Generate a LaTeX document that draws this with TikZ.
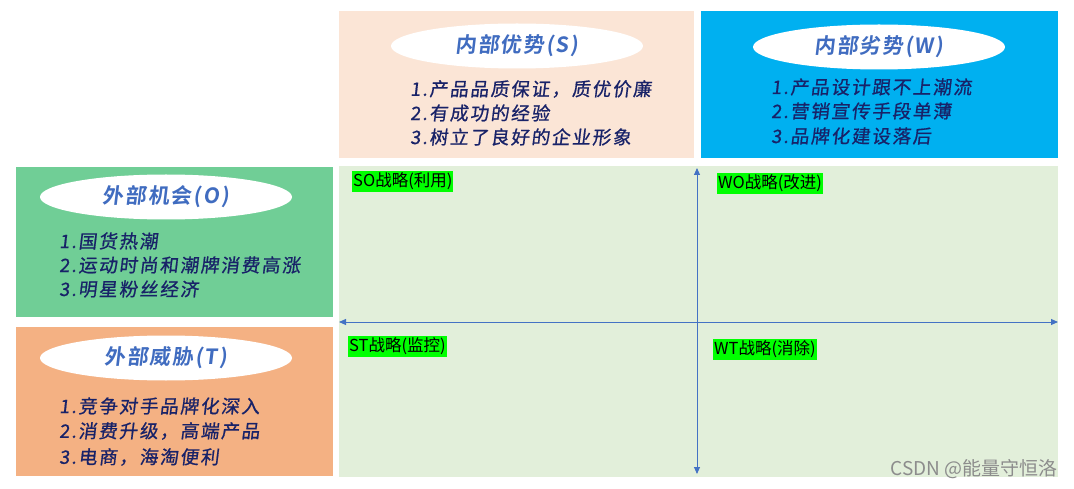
\documentclass[tikz,border=0pt]{standalone}
\usepackage{fontspec}
\usetikzlibrary{arrows.meta,shapes.geometric}
\newfontfamily\cjk{Noto Sans CJK SC}
\newfontfamily\hand[FakeSlant=0.12,LetterSpace=10,FakeBold=0.8]{Noto Sans CJK SC}
\newfontfamily\handb[FakeSlant=0.12,LetterSpace=8]{Noto Sans CJK SC Bold}
\definecolor{sbox}{RGB}{251,229,214}
\definecolor{wbox}{RGB}{0,176,240}
\definecolor{obox}{RGB}{112,206,150}
\definecolor{tbox}{RGB}{244,177,131}
\definecolor{cbox}{RGB}{226,239,218}
\definecolor{titleblue}{RGB}{64,108,192}
\definecolor{itemnavy}{RGB}{24,34,104}
\definecolor{axisblue}{RGB}{68,114,196}
\definecolor{lab}{RGB}{0,255,0}
\begin{document}
\begin{tikzpicture}[x=1pt,y=-1pt,
  oval/.style={ellipse,fill=white,draw=none,minimum width=252pt,minimum height=45pt,inner sep=0pt,
    font=\handb\fontsize{21}{23}\selectfont,text=titleblue},
  item/.style={anchor=west,inner sep=0pt,font=\hand\fontsize{18.5}{20}\selectfont,text=itemnavy},
  strat/.style={anchor=north west,fill=lab,inner xsep=1pt,inner ysep=0pt,text height=15pt,text depth=5.5pt,
    font=\cjk\fontsize{16.5}{18}\selectfont,text=black},
  axis/.style={draw=axisblue,line width=0.9pt,{Triangle[width=6pt,length=7pt]}-{Triangle[width=6pt,length=7pt]}}
]
\useasboundingbox (0,0) rectangle (1074,489);
\fill[white] (0,0) rectangle (1074,489);
% panels
\fill[sbox] (339,11) rectangle (694,158);
\fill[wbox] (701,11) rectangle (1058,158);
\fill[obox] (16,167) rectangle (333,317);
\fill[tbox] (16,327) rectangle (333,476);
\fill[cbox] (339,166) rectangle (1058,477);
% axes
\coordinate (hl) at (339,322);
\coordinate (hr) at (1058,322);
\coordinate (vt) at (697,168);
\coordinate (vb) at (697,474);
\draw[axis] (hl) -- (hr);
\draw[axis] (vt) -- (vb);
% titles
\node[oval] (st) at (517,46) {内部优势(S)};
\node[oval] (wt) at (879,47) {内部劣势(W)};
\node[oval] (ot) at (166,197) {外部机会(O)};
\node[oval] (tt) at (166,358) {外部威胁(T)};
% S items
\node[item] (s1) at (410,89) {1.产品品质保证，质优价廉};
\node[item] (s2) at (410,113) {2.有成功的经验};
\node[item] (s3) at (410,137) {3.树立了良好的企业形象};
% W items
\node[item] (w1) at (771,87) {1.产品设计跟不上潮流};
\node[item] (w2) at (771,111) {2.营销宣传手段单薄};
\node[item] (w3) at (771,136) {3.品牌化建设落后};
% O items
\node[item] (o1) at (59,241) {1.国货热潮};
\node[item] (o2) at (59,265) {2.运动时尚和潮牌消费高涨};
\node[item] (o3) at (59,289) {3.明星粉丝经济};
% T items
\node[item] (t1) at (59,406) {1.竞争对手品牌化深入};
\node[item] (t2) at (59,431) {2.消费升级，高端产品};
\node[item] (t3) at (59,457) {3.电商，海淘便利};
% strategy labels
\node[strat] (so) at (352,171) {SO战略(利用)\hspace{14pt}};
\node[strat] (wo) at (717,173) {WO战略(改进)\hspace{14pt}};
\node[strat] (stl) at (348,336) {ST战略(监控)\hspace{14pt}};
\node[strat] (wtl) at (713,339) {WT战略(消除)\hspace{14pt}};
% watermark
\node[anchor=east,inner sep=0pt,text=black!45,font=\cjk\fontsize{19}{20}\selectfont] (wm) at (1058,469) {CSDN @能量守恒洛};
\end{tikzpicture}
\end{document}
